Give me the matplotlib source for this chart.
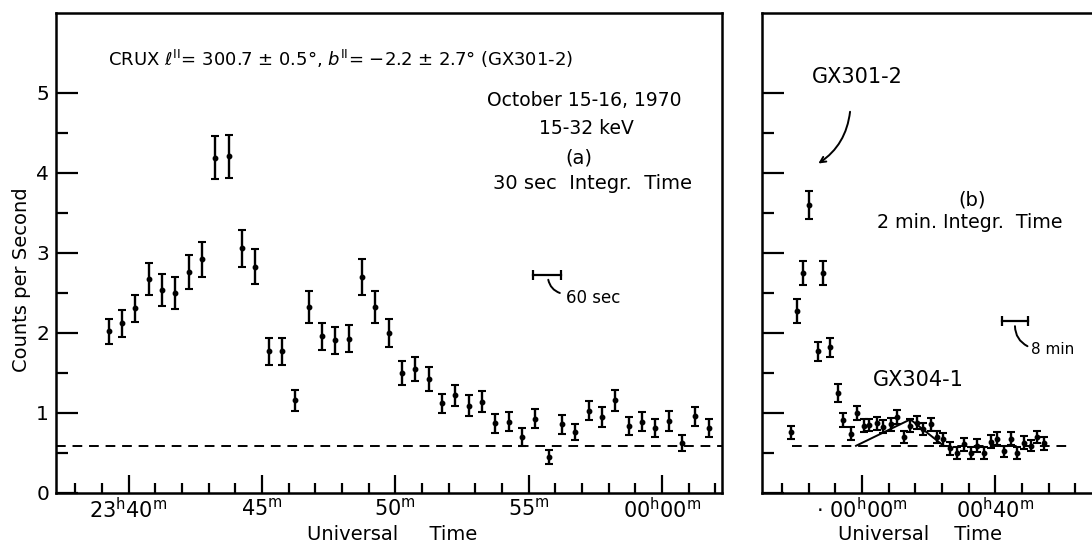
import numpy as np
import matplotlib.pyplot as plt
from matplotlib.ticker import FixedLocator, NullFormatter

plt.rcParams['font.family'] = ['DejaVu Sans']
plt.rcParams['mathtext.fontset'] = 'dejavusans'

# panel (a): minutes after 23h00m UT, 30 sec bins
t_a = [39.25, 39.75, 40.25, 40.75, 41.25, 41.75, 42.25, 42.75, 43.25, 43.75,
       44.25, 44.75, 45.25, 45.75, 46.25, 46.75, 47.25, 47.75, 48.25, 48.75,
       49.25, 49.75, 50.25, 50.75, 51.25, 51.75, 52.25, 52.75, 53.25, 53.75,
       54.25, 54.75, 55.25, 55.75, 56.25, 56.75, 57.25, 57.75, 58.25, 58.75,
       59.25, 59.75, 60.25, 60.75, 61.25, 61.75]
rate_a = [2.02, 2.12, 2.31, 2.68, 2.54, 2.50, 2.76, 2.92, 4.19, 4.21,
          3.06, 2.83, 1.77, 1.77, 1.16, 2.33, 1.96, 1.91, 1.93, 2.70,
          2.33, 2.00, 1.50, 1.55, 1.43, 1.12, 1.22, 1.09, 1.14, 0.87,
          0.89, 0.70, 0.93, 0.45, 0.86, 0.76, 1.03, 0.95, 1.16, 0.84,
          0.89, 0.81, 0.90, 0.63, 0.96, 0.81]
err_a = [0.16, 0.17, 0.17, 0.20, 0.20, 0.20, 0.21, 0.22, 0.27, 0.27,
         0.23, 0.22, 0.17, 0.17, 0.13, 0.20, 0.17, 0.17, 0.17, 0.23,
         0.20, 0.18, 0.15, 0.15, 0.15, 0.12, 0.13, 0.13, 0.13, 0.12,
         0.12, 0.11, 0.12, 0.09, 0.12, 0.10, 0.12, 0.12, 0.13, 0.11,
         0.12, 0.11, 0.12, 0.10, 0.12, 0.11]

# panel (b): minutes after 00h00m UT, 2 min bins
t_b = [-21.4, -19.6, -17.8, -15.9, -13.3, -11.6, -9.6, -7.3, -5.8, -3.3,
       -1.4, 0.6, 2.2, 4.4, 6.4, 8.6, 10.4, 12.6, 14.4, 16.4,
       18.4, 20.6, 22.5, 24.3, 26.4, 28.6, 30.6, 32.6, 34.6, 36.6,
       38.6, 40.6, 42.6, 44.6, 46.6, 48.6, 50.6, 52.6, 54.6]
rate_b = [0.76, 2.27, 2.75, 3.60, 1.77, 2.75, 1.82, 1.25, 0.91, 0.74,
          1.00, 0.84, 0.85, 0.87, 0.83, 0.86, 0.95, 0.70, 0.84, 0.88,
          0.80, 0.86, 0.70, 0.67, 0.56, 0.50, 0.61, 0.50, 0.59, 0.50,
          0.64, 0.68, 0.52, 0.68, 0.50, 0.63, 0.59, 0.70, 0.62]
err_b = [0.08, 0.15, 0.15, 0.17, 0.12, 0.15, 0.12, 0.11, 0.09, 0.08,
         0.09, 0.08, 0.08, 0.08, 0.08, 0.08, 0.09, 0.08, 0.08, 0.08,
         0.08, 0.08, 0.08, 0.08, 0.08, 0.07, 0.08, 0.07, 0.08, 0.07,
         0.08, 0.08, 0.07, 0.08, 0.07, 0.08, 0.07, 0.08, 0.08]

background = 0.59
gx304_t = [-1.8, 14.5, 24.5]
gx304_r = [0.59, 0.92, 0.59]

fig = plt.figure(figsize=(10.92, 5.48), dpi=100)
ax1 = fig.add_axes([56/1092, 55/548, 666/1092, 480/548])
ax2 = fig.add_axes([762/1092, 55/548, 330/1092, 480/548])

for ax in (ax1, ax2):
    for s in ax.spines.values():
        s.set_linewidth(1.8)
    ax.tick_params(which='both', direction='in', width=1.6, colors='black')
    ax.tick_params(axis='y', which='major', length=16)
    ax.tick_params(axis='y', which='minor', length=8.5)
    ax.tick_params(axis='x', which='major', length=13, pad=3)
    ax.tick_params(axis='x', which='minor', length=7)
    ax.set_ylim(0, 6)
    ax.yaxis.set_major_locator(FixedLocator([0, 1, 2, 3, 4, 5]))
    ax.yaxis.set_minor_locator(FixedLocator([0.5, 1.5, 2.5, 3.5, 4.5]))

eb = dict(fmt='o', ms=3.2, color='black', ecolor='black', elinewidth=1.7,
          capsize=3, capthick=1.5)

# ---- panel (a)
ax1.errorbar(t_a, rate_a, yerr=err_a, **eb)
ax1.axhline(background, color='black', lw=1.4, ls=(0, (5, 3.5)))
ax1.set_xlim(37.28, 62.25)
ax1.xaxis.set_major_locator(FixedLocator([40, 45, 50, 55, 60]))
ax1.xaxis.set_minor_locator(FixedLocator(list(range(38, 63))))
ax1.set_xticklabels([r'$23^{\mathrm{h}}40^{\mathrm{m}}$', r'$45^{\mathrm{m}}$',
                     r'$50^{\mathrm{m}}$', r'$55^{\mathrm{m}}$',
                     r'$00^{\mathrm{h}}00^{\mathrm{m}}$'], fontsize=15)
ax1.set_yticklabels(['0', '1', '2', '3', '4', '5'], fontsize=14.5)
ax1.tick_params(axis='y', pad=5)

ax1.text(39.23, 5.42, r'CRUX $\ell^{\mathrm{II}}$= 300.7 ± 0.5°, $\mathit{b}^{\mathrm{II}}$= −2.2 ± 2.7° (GX301-2)',
         fontsize=13, ha='left', va='center')
ax1.text(57.1, 4.9, 'October 15-16, 1970', fontsize=13.5, ha='center', va='center')
ax1.text(57.15, 4.56, '15-32 keV', fontsize=13.5, ha='center', va='center')
ax1.text(56.9, 4.19, '(a)', fontsize=14, ha='center', va='center')
ax1.text(57.4, 3.87, '30 sec  Integr.  Time', fontsize=14, ha='center', va='center')

# 60 sec scale bar
ax1.plot([55.15, 56.2], [2.72, 2.72], color='black', lw=1.6, marker='|', ms=7, mew=1.6)
ax1.annotate('', xy=(56.27, 2.49), xytext=(55.72, 2.70),
             arrowprops=dict(arrowstyle='-', color='black', lw=1.4,
                             connectionstyle='arc3,rad=0.35'))
ax1.text(56.4, 2.44, '60 sec', fontsize=12, ha='left', va='center')

# ---- panel (b)
ax2.errorbar(t_b, rate_b, yerr=err_b, **eb)
ax2.plot([-21.0, 63.0], [background, background], color='black', lw=1.4, ls=(0, (5, 3.5)))
ax2.plot(gx304_t, gx304_r, color='black', lw=1.4)
ax2.set_xlim(-30, 69)
ax2.spines['right'].set_visible(False)
ax2.xaxis.set_major_locator(FixedLocator([0, 40]))
ax2.xaxis.set_minor_locator(FixedLocator([-24, -16, -8, 8, 16, 24, 32, 48, 56, 64]))
ax2.set_xticklabels([r'$\cdot\ 00^{\mathrm{h}}00^{\mathrm{m}}$',
                     r'$00^{\mathrm{h}}40^{\mathrm{m}}$'], fontsize=15)
ax2.yaxis.set_major_formatter(NullFormatter())

ax2.text(-1.5, 5.2, 'GX301-2', fontsize=15, ha='center', va='center')
ax2.annotate('', xy=(-13.8, 4.1), xytext=(-3.5, 4.8),
             arrowprops=dict(arrowstyle='->', color='black', lw=1.4,
                             connectionstyle='arc3,rad=-0.25'))
ax2.text(33, 3.66, '(b)', fontsize=14, ha='center', va='center')
ax2.text(32.4, 3.38, '2 min. Integr.  Time', fontsize=13.7, ha='center', va='center')
ax2.text(16.8, 1.41, 'GX304-1', fontsize=15, ha='center', va='center')

# 8 min scale bar
ax2.plot([41.9, 49.9], [2.15, 2.15], color='black', lw=1.6, marker='|', ms=7, mew=1.6)
ax2.annotate('', xy=(50.4, 1.82), xytext=(45.9, 2.12),
             arrowprops=dict(arrowstyle='-', color='black', lw=1.4,
                             connectionstyle='arc3,rad=0.35'))
ax2.text(50.8, 1.79, '8 min', fontsize=11, ha='left', va='center')

fig.text(22/1092, 1 - 280/548, 'Counts per Second', rotation=90, fontsize=14,
         ha='center', va='center')
fig.text(392/1092, 1 - 535/548, 'Universal     Time', fontsize=14, ha='center', va='center')
fig.text(920/1092, 1 - 535/548, 'Universal    Time', fontsize=14, ha='center', va='center')

fig.savefig('out.png', dpi=100)
